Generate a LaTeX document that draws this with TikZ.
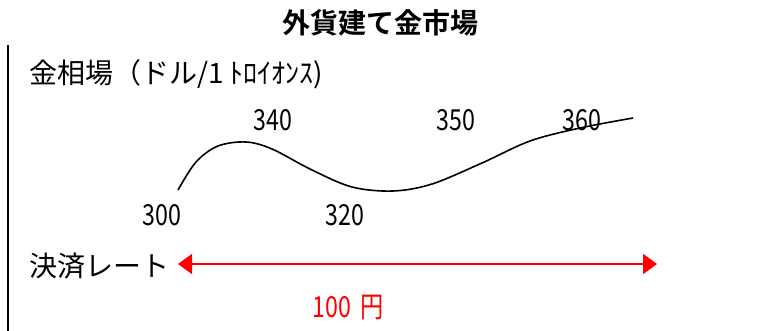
\documentclass[tikz,border=0pt]{standalone}
\usepackage{fontspec}
\setmainfont{Noto Sans CJK JP}[BoldFont={Noto Sans CJK JP Bold}]
\newfontfamily\numfont{Noto Sans CJK JP}[FakeStretch=0.8]
\usetikzlibrary{arrows.meta}
\begin{document}
\begin{tikzpicture}[x=1pt,y=-1pt,
  lbl/.style={inner sep=0pt,font=\fontsize{28}{28}\selectfont},
  num/.style={inner sep=0pt,font=\numfont\fontsize{29}{29}\selectfont},
  redarrow/.style={red,line width=2pt,{Triangle[length=14pt,width=20pt]}-{Triangle[length=14pt,width=20pt]}}]
\useasboundingbox (0,0) rectangle (770,331);
\node[lbl,font=\bfseries\fontsize{28}{28}\selectfont] (title) at (380,23) {外貨建て金市場};
\coordinate (vtop) at (8,45);
\coordinate (vbot) at (8,331);
\draw[line width=1.5pt] (vtop) -- (vbot);
\node[lbl,anchor=west] (rate) at (29,74) {金相場（ドル/1 ﾄﾛｲｵﾝｽ)};
\node[num] (n340) at (273,120) {340};
\node[num] (n350) at (456,120) {350};
\node[num] (n360) at (582,120) {360};
\node[num] (n300) at (162,215) {300};
\node[num] (n320) at (345,215) {320};
\draw[line width=1.6pt] plot[smooth,tension=0.55] coordinates {(178,190) (196,162) (218,146) (246,142) (272,149) (312,170) (352,187) (393,191) (432,184) (482,163) (530,141) (580,128) (633,118)};
\node[lbl,anchor=west] (kessai) at (29,266) {決済レート};
\coordinate (aL) at (178,264);
\coordinate (aR) at (657,264);
\draw[redarrow] (aL) -- (aR);
\node[num,red] (yen) at (348,307) {100\,\,円};
\end{tikzpicture}
\end{document}
